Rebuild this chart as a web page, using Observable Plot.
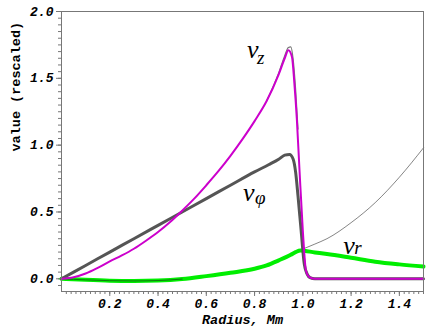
<!DOCTYPE html>
<html>
<head>
<meta charset="utf-8">
<script src="https://cdn.jsdelivr.net/npm/d3@7"></script>
<script src="https://cdn.jsdelivr.net/npm/@observablehq/plot@0.6"></script>
<style>
  html, body { margin: 0; padding: 0; background: #fff; }
</style>
</head>
<body>
<div id="chart"></div>
<script>
// v_phi (thick dark gray)
const phiR = [0, 0.1, 0.2, 0.3, 0.4, 0.5, 0.6, 0.7, 0.8, 0.86, 0.9, 0.925, 0.945, 0.96, 0.97, 0.98, 0.993, 1.006, 1.018, 1.03, 1.05, 1.2, 1.5];
const phiV = [0, 0.1, 0.2, 0.3, 0.4, 0.5, 0.6, 0.7, 0.8, 0.855, 0.895, 0.925, 0.93, 0.895, 0.8, 0.62, 0.36, 0.11, 0.035, 0.008, 0, 0, 0];

// v_z (magenta)
const zR = [0, 0.05, 0.1, 0.15, 0.2, 0.25, 0.3, 0.35, 0.4, 0.45, 0.5, 0.55, 0.6, 0.65, 0.7, 0.75, 0.8, 0.85, 0.9, 0.925, 0.94, 0.955, 0.965, 0.975, 0.986, 1.0, 1.013, 1.025, 1.04, 1.06, 1.5];
const zV = [0, 0.012, 0.04, 0.082, 0.13, 0.175, 0.225, 0.285, 0.35, 0.425, 0.51, 0.6, 0.70, 0.805, 0.92, 1.045, 1.18, 1.33, 1.53, 1.65, 1.71, 1.66, 1.46, 1.2, 0.82, 0.36, 0.06, 0.015, 0.003, 0, 0];
// exact v_z (thin gray, under magenta)
const zExactR = [0.85, 0.9, 0.925, 0.94, 0.95, 0.96, 0.97, 0.98];
const zExactV = [1.33, 1.54, 1.67, 1.73, 1.735, 1.64, 1.42, 1.12];

// v_r (green)
const rR = [0, 0.1, 0.2, 0.3, 0.4, 0.5, 0.6, 0.7, 0.8, 0.85, 0.9, 0.95, 0.97, 0.99, 1.05, 1.1, 1.2, 1.3, 1.4, 1.5];
const rV = [0, -0.008, -0.014, -0.016, -0.013, -0.002, 0.02, 0.045, 0.075, 0.1, 0.138, 0.18, 0.2, 0.212, 0.197, 0.185, 0.157, 0.128, 0.108, 0.092];
// exact v_r (thin black), diverges beyond r = 1
const rExactR = [0, 0.1, 0.2, 0.3, 0.4, 0.5, 0.6, 0.7, 0.8, 0.85, 0.9, 0.95, 0.97, 0.99, 1.05, 1.1, 1.2, 1.3, 1.4, 1.5];
const rExactV = [0, -0.008, -0.014, -0.016, -0.013, -0.002, 0.02, 0.045, 0.075, 0.1, 0.138, 0.18, 0.2, 0.215, 0.26, 0.30, 0.42, 0.57, 0.76, 0.98];

// annotations (data coords)
const annR = [0.769, 0.752, 1.167];
const annV = [1.651, 0.579, 0.182];
const annMain = ["v", "v", "v"];
const annSub = ["z", "φ", "r"];

// ticks
const yMajor = [0, 0.5, 1.0, 1.5, 2.0];
const yMinor = d3.range(-0.05, 2.0001, 0.05);
const xMajor = [0.2, 0.4, 0.6, 0.8, 1.0, 1.2, 1.4];
const xMinor = d3.range(0.02, 1.5001, 0.02);

const toPts = (xs, ys) => xs.map((x, i) => ({x, y: ys[i]}));
const ann = annR.map((x, i) => ({x, y: annV[i], main: annMain[i], sub: annSub[i]}));

const mono = "'Liberation Mono', 'Courier New', monospace";
const serif = "'Liberation Serif', 'Times New Roman', serif";
const subStyle = {x: "x", y: "y", text: "sub", textAnchor: "start", lineAnchor: "bottom",
  fontFamily: serif, fontStyle: "italic", fontSize: 19, fill: "black"};

const chart = Plot.plot({
  width: 436,
  height: 334,
  marginLeft: 61,
  marginRight: 13,
  marginTop: 11,
  marginBottom: 43,
  style: {background: "#fff", overflow: "visible"},
  x: {domain: [0, 1.5]},
  y: {domain: [-0.095, 2.0]},
  marks: [
    Plot.axisY(yMinor, {tickSize: 3, tickFormat: () => "", label: null, stroke: "#777"}),
    Plot.axisY(yMajor, {tickSize: 5, tickPadding: 3, tickFormat: d3.format(".1f"), label: null, stroke: "#777", fill: "black",
      fontFamily: mono, fontSize: 13, fontWeight: "bold", fontStyle: "italic"}),
    Plot.axisX(xMinor, {tickSize: 3, tickFormat: () => "", label: null, stroke: "#777"}),
    Plot.axisX(xMajor, {tickSize: 5, tickPadding: 2, tickFormat: d3.format(".1f"), label: null, stroke: "#777", fill: "black",
      fontFamily: mono, fontSize: 13, fontWeight: "bold", fontStyle: "italic"}),
    Plot.line(toPts(rExactR, rExactV), {x: "x", y: "y", stroke: "#333", strokeWidth: 0.6, curve: "monotone-x"}),
    Plot.line(toPts(rR, rV), {x: "x", y: "y", stroke: "#00ee00", strokeWidth: 4, curve: "monotone-x"}),
    Plot.line(toPts(rR, rV).filter(d => d.x <= 0.5), {x: "x", y: "y", stroke: "#117711", strokeWidth: 1, curve: "monotone-x"}),
    Plot.line(toPts(phiR, phiV), {x: "x", y: "y", stroke: "#555", strokeWidth: 3, curve: "monotone-x"}),
    Plot.line(toPts(zExactR, zExactV), {x: "x", y: "y", stroke: "#777", strokeWidth: 1.2, curve: "monotone-x"}),
    Plot.line(toPts(zR, zV), {x: "x", y: "y", stroke: "#cc00cc", strokeWidth: 2, curve: "monotone-x"}),
    Plot.frame({stroke: "#777"}),
    Plot.text(ann, {x: "x", y: "y", text: "main", textAnchor: "start", lineAnchor: "bottom",
      fontFamily: serif, fontStyle: "italic", fontSize: 26, fill: "black"}),
    Plot.text(ann.slice(0, 1), {...subStyle, dx: 10, dy: 6}),
    Plot.text(ann.slice(1, 2), {...subStyle, dx: 12, dy: 3}),
    Plot.text(ann.slice(2, 3), {...subStyle, dx: 11, dy: 0}),
    Plot.text(["value (rescaled)"], {frameAnchor: "left", dx: -46, rotate: -90, lineAnchor: "middle",
      fontFamily: mono, fontSize: 13.5, fontWeight: "bold", fill: "black"}),
    Plot.text(["Radius, Mm"], {frameAnchor: "bottom", dy: 28, lineAnchor: "middle",
      fontFamily: mono, fontSize: 13.5, fontWeight: "bold", fontStyle: "italic", fill: "black"})
  ]
});
document.getElementById("chart").appendChild(chart);
</script>
</body>
</html>
